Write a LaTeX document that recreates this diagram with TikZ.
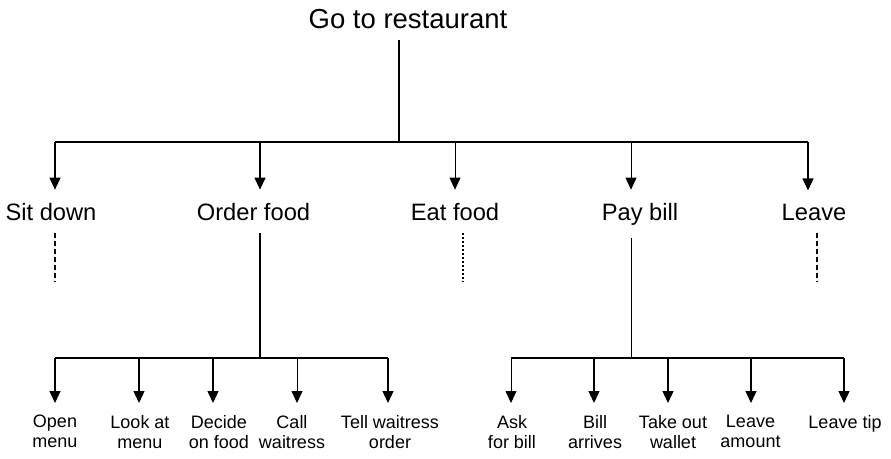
\documentclass[tikz,border=0pt]{standalone}
\usepackage{fontspec}
\setmainfont{Liberation Sans}
\usetikzlibrary{arrows.meta}
\begin{document}
\begin{tikzpicture}[x=1pt,y=-1pt,
  conn/.style={line width=1.3pt},
  thinconn/.style={line width=0.8pt},
  arr/.style={conn,-{Triangle[width=11pt,length=12pt]}},
  thinarr/.style={thinconn,-{Triangle[width=11pt,length=12pt]}},
  toplabel/.style={font=\fontsize{27.5}{30}\selectfont,anchor=base,inner sep=0pt},
  midlabel/.style={font=\fontsize{23.7}{26}\selectfont,anchor=base,inner xsep=0pt,inner ysep=13pt},
  lowlabel/.style={font=\fontsize{18}{20}\selectfont,align=center,anchor=north,inner xsep=0pt,inner ysep=12pt},
  dashline/.style={line width=1.3pt,dash pattern=on 5pt off 3pt},
  dotline/.style={line width=1.2pt,dash pattern=on 2pt off 2pt}]
\useasboundingbox (0,0) rectangle (891,458);

% top
\node[toplabel] (top) at (408,28) {Go to restaurant};
\coordinate (j0) at (399,142);
\coordinate (j0top) at (399,40);

% level 2
\node[midlabel] (sd) at (51,220) {Sit down};
\node[midlabel] (of) at (253.5,220) {Order food};
\node[midlabel] (ef) at (455,220) {Eat food};
\node[midlabel] (pb) at (640,220) {Pay bill};
\node[midlabel] (lv) at (814,220) {Leave};

\coordinate (xsd) at (55,142);
\coordinate (xof) at (260,142);
\coordinate (xef) at (455,142);
\coordinate (xpb) at (631,142);
\coordinate (xlv) at (808,142);

\draw[conn] (j0top) -- (j0);
\draw[conn] (xsd) -- (xlv);
\draw[arr] (xsd) -- (xsd |- sd.north);
\draw[arr] (xof) -- (xof |- of.north);
\draw[thinarr] (xef) -- (xef |- ef.north);
\draw[thinarr] (xpb) -- (xpb |- pb.north);
\draw[arr] (xlv) -- (xlv |- lv.north);

% dashed continuations
\coordinate (dsd) at (55,282);
\coordinate (def) at (463,282);
\coordinate (dlv) at (817,282);
\draw[dashline] (dsd |- sd.south) -- (dsd);
\draw[dotline] (def |- ef.south) -- (def);
\draw[dashline] (dlv |- lv.south) -- (dlv);

% level 3 left
\coordinate (j1) at (260,358);
\coordinate (j2) at (631,358);
\draw[conn] (xof |- of.south) -- (j1);
\draw[thinconn] (xpb |- pb.south) -- (j2);

\node[lowlabel] (om) at (55,403) {Open\\menu};
\node[lowlabel] (lm) at (140,403) {Look at\\menu};
\node[lowlabel] (df) at (219,403) {Decide\\on food};
\node[lowlabel] (cw) at (292,403) {Call\\waitress};
\node[lowlabel] (tw) at (390,403) {Tell waitress\\order};

\coordinate (a1) at (55,358);
\coordinate (a2) at (139,358);
\coordinate (a3) at (213,358);
\coordinate (a4) at (297,358);
\coordinate (a5) at (388,358);
\draw[conn] (a1) -- (a5);
\draw[arr] (a1) -- (a1 |- om.north);
\draw[arr] (a2) -- (a2 |- lm.north);
\draw[arr] (a3) -- (a3 |- df.north);
\draw[thinarr] (a4) -- (a4 |- cw.north);
\draw[arr] (a5) -- (a5 |- tw.north);

% level 3 right
\node[lowlabel] (ab) at (512,403) {Ask\\for bill};
\node[lowlabel] (ba) at (595,403) {Bill\\arrives};
\node[lowlabel] (tw2) at (673,403) {Take out\\wallet};
\node[lowlabel] (la) at (750.5,403) {Leave\\amount};
\node[lowlabel] (lt) at (845,403) {Leave tip};

\coordinate (b1) at (511,358);
\coordinate (b2) at (594,358);
\coordinate (b3) at (668,358);
\coordinate (b4) at (751,358);
\coordinate (b5) at (844,358);
\draw[conn] (b1) -- (b5);
\draw[thinarr] (b1) -- (b1 |- ab.north);
\draw[arr] (b2) -- (b2 |- ba.north);
\draw[arr] (b3) -- (b3 |- tw2.north);
\draw[arr] (b4) -- (b4 |- la.north);
\draw[arr] (b5) -- (b5 |- lt.north);
\end{tikzpicture}
\end{document}
